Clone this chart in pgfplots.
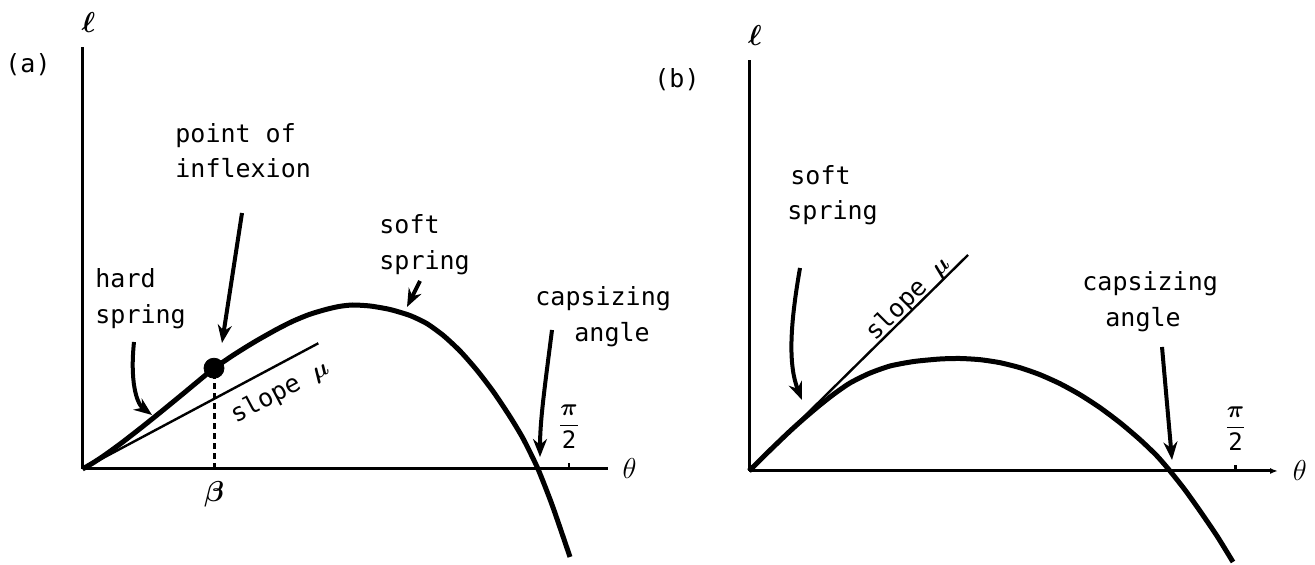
\documentclass[border=0pt]{standalone}
\usepackage{amsmath}
\usepackage{bm}
\usepackage{pgfplots}
\pgfplotsset{compat=1.18}
\usepackage{fontspec}
\setmainfont{DejaVu Sans Mono}
\usetikzlibrary{arrows.meta}

% righting-arm curves: theta in radians, lever arm in the same units
\pgfplotsset{gz/.style={
  scale only axis, clip=false,
  axis lines=left,
  axis line style={line width=1.5pt, -},
  xmin=0, ymin=0,
  ytick=\empty,
  xtick={1.5708},
  xticklabels={$\dfrac{\bm{\pi}}{\text{2}}$},
  xtick align=inside,
  major tick length=3pt,
  tick style={line width=1.2pt, black},
  xticklabel style={anchor=south, yshift=6pt, font=\fontsize{12}{14}\selectfont},
  xlabel={$\theta$},
  xlabel style={at={(axis description cs:1,0)}, anchor=west, xshift=3pt, font=\fontsize{15}{17}\selectfont},
  ylabel={$\bm{\ell}$},
  ylabel style={at={(axis description cs:0,1)}, rotate=-90, anchor=south, xshift=3pt, yshift=3pt, font=\fontsize{14}{16}\selectfont},
}}

\begin{document}
\fontsize{12.5}{15}\selectfont
\begin{tikzpicture}[x=0.5pt, y=0.5pt]
\useasboundingbox (0,0) rectangle (1315,565);

% (a) hard spring near the origin
\begin{axis}[gz,
  at={(41.25pt,48pt)}, anchor=origin,
  width=262.75pt, height=211pt,
  xmax=1.6967, ymax=1.3626,
  extra x ticks={0.4246},
  extra x tick labels={$\bm{\beta}$},
  extra x tick style={major tick length=0pt,
    xticklabel style={anchor=north, yshift=-8pt, font=\fontsize{14}{16}\selectfont}},
]
\addplot[line width=2.5pt, smooth, tension=0.4] table {
x y
0.0000 0.0000
0.0323 0.0187
0.0646 0.0397
0.0969 0.0626
0.1292 0.0865
0.1614 0.1114
0.1937 0.1366
0.2260 0.1624
0.2583 0.1886
0.2906 0.2150
0.3229 0.2415
0.3552 0.2683
0.3875 0.2951
0.4230 0.3245
0.4553 0.3464
0.4875 0.3681
0.5263 0.3926
0.5650 0.4159
0.6264 0.4504
0.6780 0.4766
0.7329 0.4992
0.7878 0.5156
0.8298 0.5250
0.8718 0.5295
0.9283 0.5263
0.9929 0.5150
1.0574 0.4956
1.1114 0.4698
1.1650 0.4310
1.2189 0.3810
1.2728 0.3197
1.3264 0.2496
1.3803 0.1689
1.4233 0.0969
1.4707 0.0000
1.5175 -0.1195
1.5740 -0.2841
};
% tangent at the origin
\addplot[line width=1.2pt] coordinates {(0,0) (0.7614,0.4059)};
% point of inflexion
\addplot[dash pattern=on 3pt off 2pt, line width=1.5pt] coordinates {(0.4246,0) (0.4246,0.3255)};
\addplot[only marks, mark=*, mark size=5pt, black] coordinates {(0.4246,0.3255)};
\end{axis}

% (b) soft spring throughout
\begin{axis}[gz,
  at={(374.5pt,47pt)}, anchor=origin,
  width=264.5pt, height=205.5pt,
  xmax=1.7080, ymax=1.3270,
  axis line style={line width=1.5pt, -{Latex[length=4pt,width=3pt]}},
  y axis line style={-},
]
\addplot[line width=2.5pt, smooth, tension=0.4] table {
x y
0.0000 0.0000
0.0646 0.0639
0.1292 0.1259
0.1776 0.1695
0.2292 0.2131
0.2744 0.2486
0.3261 0.2841
0.3875 0.3148
0.4553 0.3390
0.5328 0.3536
0.6167 0.3616
0.6813 0.3632
0.7459 0.3594
0.8104 0.3497
0.8750 0.3335
0.9396 0.3109
1.0042 0.2819
1.0687 0.2464
1.1333 0.2044
1.1979 0.1560
1.2625 0.1011
1.3164 0.0494
1.3593 0.0000
1.4078 -0.0613
1.4562 -0.1292
1.5111 -0.2099
1.5627 -0.2938
};
\addplot[line width=1.2pt] coordinates {(0,0) (0.7071,0.6974)};
\end{axis}

% annotations
\tikzset{lab/.style={anchor=base west, inner sep=0pt},
         ann/.style={line width=2pt, -{Stealth[length=9pt,width=7pt]}}}
\node at (28,500) {(a)};
\node at (677,485) {(b)};

\node[lab] at (175,422) {point of};
\node[lab] at (175,387) {inflexion};
\draw[ann] (242,352) -- (222,222);

\node[lab] at (95,277) {hard};
\node[lab] at (95,241) {spring};
\draw[ann] (134,223) .. controls (130,185) and (136,162) .. (152,150);

\node[lab] at (379,331) {soft};
\node[lab] at (379,295) {spring};
\draw[ann] (420,284) -- (407,258);

\node[lab] at (535,259) {capsizing};
\node[lab] at (574,223) {angle};
\draw[ann] (552,235) .. controls (545,180) and (540,145) .. (540,108);

\node[rotate=28] at (280,173) {slope $\bm{\mu}$};

\node[lab] at (790,380) {soft};
\node[lab] at (787,345) {spring};
\draw[ann] (800,297) .. controls (790,240) and (788,200) .. (802,165);

\node[rotate=45] at (908,266) {slope $\bm{\mu}$};

\node[lab] at (1082,274) {capsizing};
\node[lab] at (1105,238) {angle};
\draw[ann] (1162,218) -- (1172,105);
\end{tikzpicture}
\end{document}
